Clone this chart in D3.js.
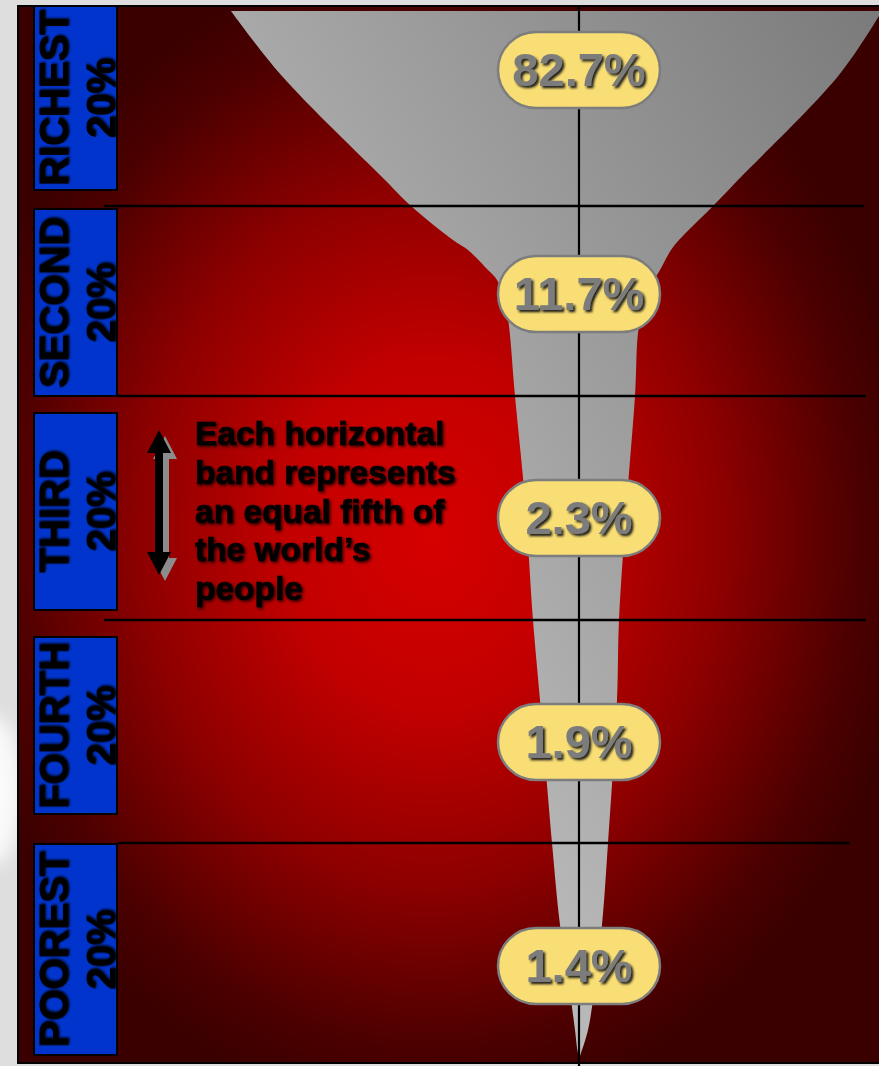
<!DOCTYPE html>
<html>
<head>
<meta charset="utf-8">
<script src="https://cdn.jsdelivr.net/npm/d3@7"></script>
<style>
  html, body { margin: 0; padding: 0; background: #dedede; }
  svg { display: block; }
</style>
</head>
<body>
<script>
// the five fifths of world population, richest on top
const groups = ["RICHEST", "SECOND", "THIRD", "FOURTH", "POOREST"];
const groupShare = ["20%", "20%", "20%", "20%", "20%"];
// share of world income held by each fifth (%)
const incomeShare = [82.7, 11.7, 2.3, 1.9, 1.4];

// outline of the "glass"
// depth = bands from the top, left/right = half width either side of the stem
const profileDepth = [0.025, 0.345, 0.87, 1.0, 1.179, 1.232, 1.337, 1.389, 1.495, 1.632, 2.0, 2.464, 3.0, 3.359, 4.0, 4.374, 4.717, 4.854, 4.959];
const profileLeft  = [348, 298, 194, 168, 126, 111, 91, 82, 74, 70, 64, 54, 46, 39, 27, 19, 8, 4, 1];
const profileRight = [303, 260, 159, 134, 100, 92, 81, 75, 68, 60, 56, 48, 40, 38, 29, 23, 14, 9, 2];

const noteLines = ["Each horizontal", "band represents", "an equal fifth of", "the world\u2019s", "people"];

//layout
let width = 879, height = 1066;
let stemX = 579;
let font = "'Liberation Sans', Arial, sans-serif";
// horizontal extents of the band separators
let sepExtent = [[104, 864], [118, 866], [104, 866], [118, 850]];
// top / bottom inset of each blue label box inside its band
let boxInset = [[0, 16], [3, 0], [17, 10], [17, 29], [1, 7]];

const svg = d3.select("body").append("svg")
  .attr("width", width)
  .attr("height", height);

const defs = svg.append("defs");

//gradients
let rg = defs.append("radialGradient")
  .attr("id", "panelFill")
  .attr("cx", 0.47).attr("cy", 0.5).attr("r", 0.55);
[[0, "#d60000"], [0.3, "#c20000"], [0.6, "#8e0000"], [0.88, "#4c0000"], [1, "#3a0000"]]
  .forEach(s => rg.append("stop").attr("offset", s[0]).attr("stop-color", s[1]));

let lg = defs.append("linearGradient")
  .attr("id", "glassFill")
  .attr("gradientUnits", "userSpaceOnUse")
  .attr("x1", 230).attr("y1", 380).attr("x2", 880).attr("y2", 0);
lg.append("stop").attr("offset", 0).attr("stop-color", "#b8b8b8");
lg.append("stop").attr("offset", 1).attr("stop-color", "#7a7a7a");

//filters
function shadow(id, dx, dy, sd, color, op) {
  let f = defs.append("filter").attr("id", id)
    .attr("x", "-20%").attr("y", "-20%").attr("width", "140%").attr("height", "140%");
  f.append("feDropShadow")
    .attr("dx", dx).attr("dy", dy).attr("stdDeviation", sd)
    .attr("flood-color", color).attr("flood-opacity", op);
}
shadow("boxText", 1, 1, 1.3, "#000", 0.9);
shadow("noteText", 1.5, 1.5, 1.6, "#000", 0.8);
shadow("pillText", 2.2, 2.2, 1.1, "#141414", 0.95);

let blur = defs.append("filter").attr("id", "soft")
  .attr("x", "-100%").attr("y", "-100%").attr("width", "300%").attr("height", "300%");
blur.append("feGaussianBlur").attr("stdDeviation", 9);

//scales
let yBand = d3.scaleLinear()
  .domain([0, 1, 2, 3, 4, 5])
  .range([6, 206, 396, 620, 843, 1062]);

let xOff = d3.scaleLinear()
  .domain([-400, 400])
  .range([stemX - 400, stemX + 400]);

let yLabel = d3.scalePoint()
  .domain(groups)
  .range([70, 966]);

//faint light swirl behind the panel on the left
svg.append("ellipse")
  .attr("cx", -8).attr("cy", 790)
  .attr("rx", 30).attr("ry", 75)
  .attr("fill", "#ffffff")
  .attr("opacity", 0.85)
  .attr("filter", "url(#soft)");

//panel
svg.append("rect")
  .attr("x", 18).attr("y", 6)
  .attr("width", 880).attr("height", 1057)
  .attr("fill", "url(#panelFill)")
  .attr("stroke", "#000")
  .attr("stroke-width", 2);

defs.append("clipPath").attr("id", "panelClip")
  .append("rect").attr("x", 19).attr("y", 7).attr("width", 880).attr("height", 1055);

//glass outline: down the left side, round the tip, back up the right side, straight rim
let leftSide = profileDepth.map((d, i) => [xOff(-profileLeft[i]), yBand(d)]);
let rightSide = profileDepth.map((d, i) => [xOff(profileRight[i]), yBand(d)]).reverse();
let tip = [[xOff(0.5), yBand(4.975)]];
let outline = leftSide.concat(tip, rightSide);

svg.append("path")
  .attr("clip-path", "url(#panelClip)")
  .attr("d", d3.line().curve(d3.curveCatmullRom.alpha(0.5))(outline) + "Z")
  .attr("fill", "url(#glassFill)");

//band separators
svg.append("g")
  .selectAll("line")
  .data(sepExtent)
  .enter()
  .append("line")
  .attr("x1", d => d[0])
  .attr("x2", d => d[1])
  .attr("y1", (d, i) => yBand(i + 1))
  .attr("y2", (d, i) => yBand(i + 1))
  .attr("stroke", "#000")
  .attr("stroke-width", 2.5);

//stem line
svg.append("line")
  .attr("x1", stemX).attr("x2", stemX)
  .attr("y1", 6).attr("y2", height)
  .attr("stroke", "#000")
  .attr("stroke-width", 2.2);

//blue group boxes
let boxes = svg.append("g")
  .selectAll("g")
  .data(groups)
  .enter()
  .append("g");

boxes.append("rect")
  .attr("x", 34)
  .attr("width", 83)
  .attr("y", (d, i) => yBand(i) + boxInset[i][0])
  .attr("height", (d, i) => yBand(i + 1) - yBand(i) - boxInset[i][0] - boxInset[i][1])
  .attr("fill", "#0034cc")
  .attr("stroke", "#000")
  .attr("stroke-width", 2);

let boxLabel = boxes.append("text")
  .attr("transform", (d, i) => {
    let cy = (yBand(i) + boxInset[i][0] + yBand(i + 1) - boxInset[i][1]) / 2;
    return "translate(34," + cy + ") rotate(-90)";
  })
  .attr("text-anchor", "middle")
  .attr("font-family", font)
  .attr("font-weight", "bold")
  .attr("font-size", 40)
  .attr("fill", "#000")
  .attr("stroke", "#000")
  .attr("stroke-width", 1)
  .attr("filter", "url(#boxText)");

boxLabel.append("tspan").attr("x", 0).attr("y", 34).text(d => d);
boxLabel.append("tspan").attr("x", 0).attr("y", 81).text((d, i) => groupShare[i]);

//double arrow annotation
function arrowPath(x, y0, y1) {
  let hw = 12, hh = 23, sw = 4;
  return "M" + x + "," + y0 +
    "L" + (x + hw) + "," + (y0 + hh) +
    "L" + (x + sw) + "," + (y0 + hh) +
    "L" + (x + sw) + "," + (y1 - hh) +
    "L" + (x + hw) + "," + (y1 - hh) +
    "L" + x + "," + y1 +
    "L" + (x - hw) + "," + (y1 - hh) +
    "L" + (x - sw) + "," + (y1 - hh) +
    "L" + (x - sw) + "," + (y0 + hh) +
    "L" + (x - hw) + "," + (y0 + hh) + "Z";
}
let aTop = yBand(2) + 34, aBottom = yBand(3) - 45;
svg.append("path")
  .attr("d", arrowPath(165, aTop + 6, aBottom + 6))
  .attr("fill", "#8c8c8c");
svg.append("path")
  .attr("d", arrowPath(159, aTop, aBottom))
  .attr("fill", "#000");

svg.append("g")
  .selectAll("text")
  .data(noteLines)
  .enter()
  .append("text")
  .attr("x", 195)
  .attr("y", (d, i) => yBand(2) + 49 + i * 38.8)
  .attr("font-family", font)
  .attr("font-weight", "bold")
  .attr("font-size", 33.5)
  .attr("fill", "#000")
  .attr("stroke", "#000")
  .attr("stroke-width", 0.7)
  .attr("filter", "url(#noteText)")
  .text(d => d);

//income share pills
let pills = svg.append("g")
  .selectAll("g")
  .data(groups)
  .enter()
  .append("g")
  .attr("transform", d => "translate(" + stemX + "," + yLabel(d) + ")");

pills.append("rect")
  .attr("x", -81).attr("y", -38)
  .attr("width", 162).attr("height", 76)
  .attr("rx", 38).attr("ry", 38)
  .attr("fill", "#f8de74")
  .attr("stroke", "#7d7d7d")
  .attr("stroke-width", 2.5);

pills.append("text")
  .attr("y", 16)
  .attr("text-anchor", "middle")
  .attr("font-family", font)
  .attr("font-weight", "bold")
  .attr("font-size", 47)
  .attr("fill", "#7b7b7b")
  .attr("filter", "url(#pillText)")
  .text((d, i) => d3.format(".1f")(incomeShare[i]) + "%");
</script>
</body>
</html>
